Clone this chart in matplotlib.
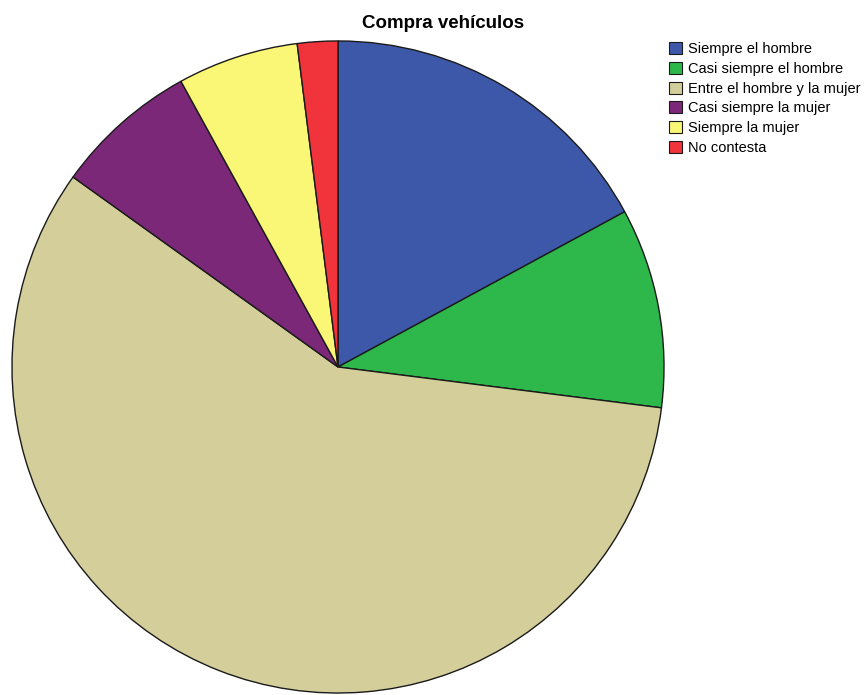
import matplotlib.pyplot as plt
from matplotlib.patches import Patch

plt.rcParams['font.family'] = ['Liberation Sans', 'DejaVu Sans']

labels = ["Siempre el hombre", "Casi siempre el hombre", "Entre el hombre y la mujer",
          "Casi siempre la mujer", "Siempre la mujer", "No contesta"]
values = [17.1, 9.9, 57.9, 7.1, 6.0, 2.0]
colors = ["#3e58a9", "#2eb74b", "#d4cf9a", "#7b2879", "#faf676", "#f1333b"]

fig = plt.figure(figsize=(8.65, 6.95), dpi=100)
ax = fig.add_axes([11 / 865, 1 / 695, 654 / 865, 654 / 695])
ax.pie(values, colors=colors, startangle=90, counterclock=False, radius=1,
       wedgeprops=dict(edgecolor="#1a1a1a", linewidth=1.0))
ax.set_xlim(-1.003, 1.003)
ax.set_ylim(-1.003, 1.003)
ax.set_aspect('equal')
ax.axis('off')

fig.text(443 / 865, 1 - 23 / 695, "Compra vehículos", ha='center', va='center',
         fontsize=13.5, fontweight='bold')

handles = [Patch(facecolor=c, edgecolor="#1a1a1a", linewidth=0.8) for c in colors]
fig.legend(handles, labels, loc='upper left', bbox_to_anchor=(669 / 865, 1 - 42 / 695),
           frameon=False, fontsize=10.5, handlelength=0.9, handleheight=0.9,
           handletextpad=0.4, labelspacing=0.39, borderaxespad=0, borderpad=0)

fig.savefig("out.png", dpi=100)
